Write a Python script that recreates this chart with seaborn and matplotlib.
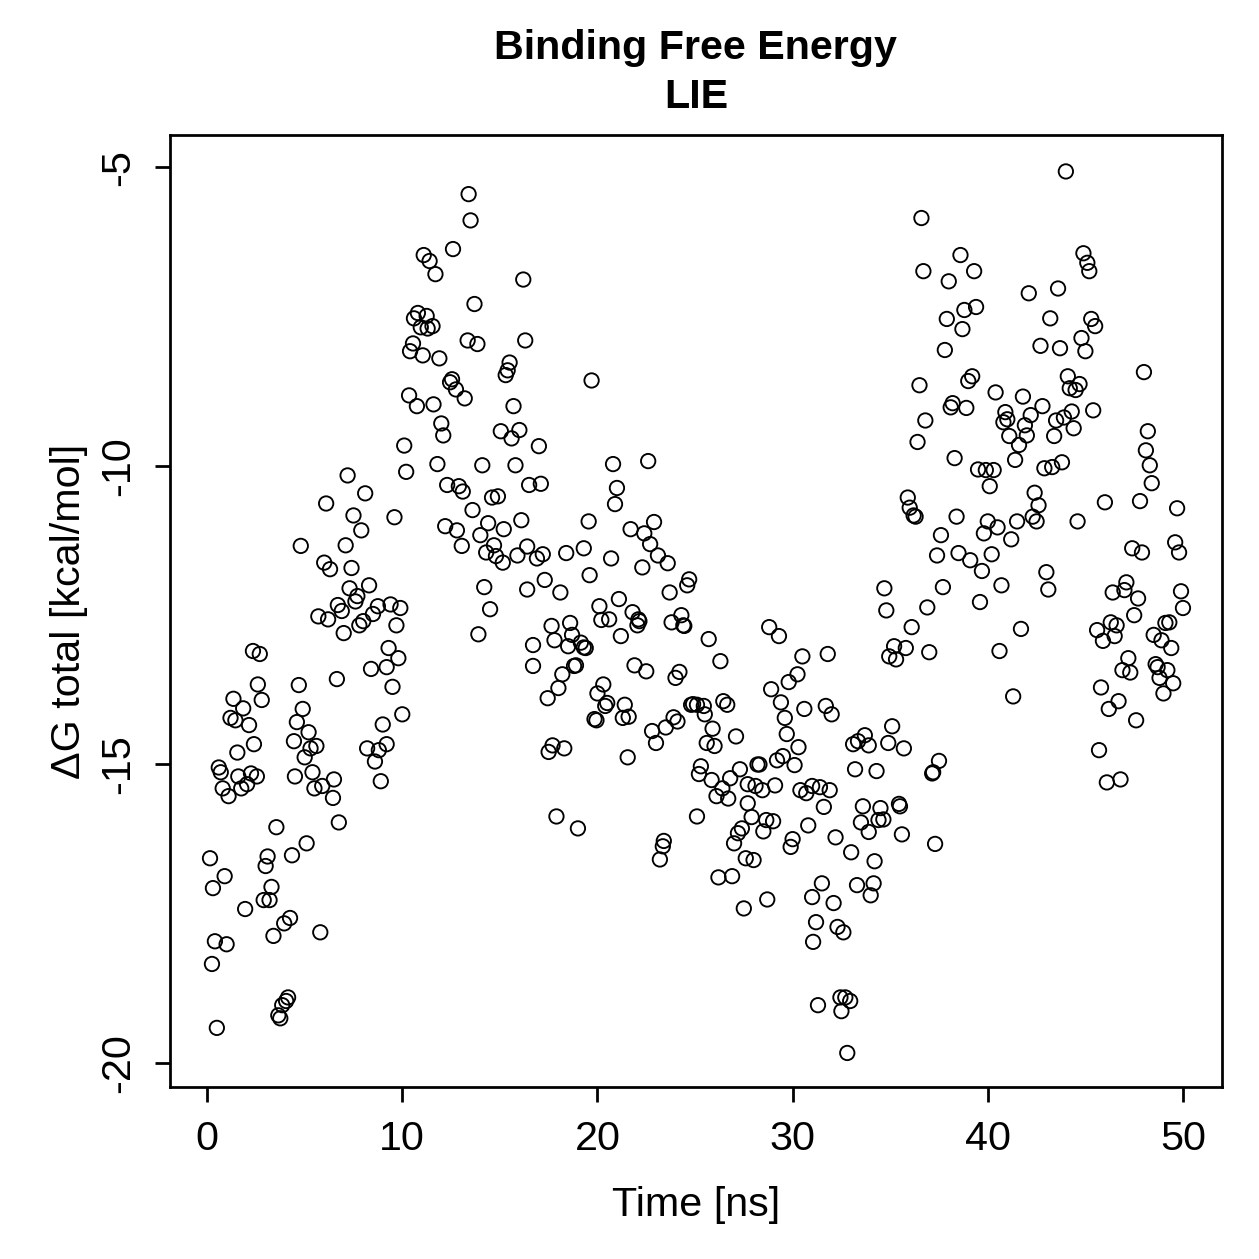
import matplotlib
matplotlib.use("Agg")
import matplotlib.pyplot as plt
import seaborn as sns
import pandas as pd

# ---- data (time [ns], dG total [kcal/mol]) ----
time_00_10 = [0.15, 0.25, 0.3, 0.4, 0.5, 0.8, 0.9, 1.0, 1.1, 1.75, 1.95, 2.05, 2.9, 3.0, 3.1, 3.2, 3.3, 3.4,
              3.55, 3.65, 3.75, 3.85, 3.95, 4.05, 4.15, 4.25, 4.35, 5.1, 5.5, 5.8, 5.9, 6.45, 6.75,
              7.2, 8.1, 6.1, 7.5, 9.6, 7.9, 4.8, 7.1, 6.0, 6.3, 7.4, 7.3, 8.3, 7.7, 7.6, 6.7, 6.9, 8.75,
              9.4, 9.9, 8.5, 5.7, 6.2, 8.0, 7.8, 9.7, 7.0, 9.3, 9.8, 9.2, 8.4, 6.65, 9.5, 9.0, 9.2, 8.2,
              8.8, 8.6, 2.35, 2.7, 2.6, 4.7, 1.35, 2.8, 1.85, 1.2, 1.45, 2.15, 4.9, 4.6, 5.2, 4.45, 2.4,
              5.3, 5.6, 5.0, 1.55, 0.6, 0.7, 1.6, 2.25, 2.55, 4.5, 5.4, 6.5, 8.9]
dg_00_10 = [-16.57, -18.34, -17.07, -17.96, -19.41, -15.40, -16.87, -18.01, -15.53, -15.40, -17.42, -15.33,
            -17.27, -16.70, -16.54, -17.27, -17.05, -17.87, -16.05, -19.20, -19.25, -19.03, -17.66, -18.96,
            -18.90, -17.57, -16.52, -16.32, -15.40, -17.81, -15.36, -15.56, -15.97,
            -10.16, -10.46, -10.63, -10.83, -10.86, -11.08, -11.34, -11.33, -11.62, -11.73, -11.71, -12.05,
            -12.0, -12.18, -12.27, -12.33, -12.43, -12.35, -12.32, -12.38, -12.48, -12.52, -12.57, -12.6,
            -12.67, -12.67, -12.8, -13.05, -13.22, -13.37, -13.4, -13.57, -13.7, -14.33, -14.66, -14.73,
            -14.76, -14.95, -13.1, -13.15, -13.66, -13.67, -13.9, -13.92, -14.06, -14.22, -14.26, -14.34,
            -14.07, -14.29, -14.46, -14.61, -14.66, -14.73, -14.69, -14.88, -14.8, -15.05, -15.13, -15.2,
            -15.15, -15.2, -15.2, -15.13, -15.25, -15.28]

time_10_20 = [10.2, 11.8, 14.1, 15.8, 10.0, 12.3, 12.9, 13.1, 14.6, 14.9, 16.5, 13.6, 12.2, 12.8, 14.4, 15.2,
              16.1, 14.0, 13.05, 14.7, 14.3, 14.8, 15.15, 15.9, 16.4, 14.2, 16.4, 14.5, 13.9, 16.7, 16.7,
              13.4, 13.5, 12.6, 11.1, 11.4, 11.7, 16.2, 13.7, 10.8, 10.6, 11.25, 10.95, 11.55, 11.3, 13.35,
              13.85, 16.3, 10.55, 10.4, 11.05, 11.9, 15.5, 15.4, 15.3, 12.55, 12.45, 12.75, 13.2, 10.35,
              10.75, 11.6, 15.7, 12.0, 12.1, 15.05, 15.6, 16.0, 10.1, 17.0, 19.7,
              17.1, 19.55, 16.9, 17.2, 18.4, 19.3, 19.6, 17.3, 18.1, 18.6, 17.65, 18.7, 17.8, 18.5, 19.15,
              19.3, 19.4, 18.8, 18.9, 18.2, 18.0, 17.45, 19.85, 19.95, 17.7, 17.5, 18.3, 17.9, 19.0]
dg_10_20 = [-10.1, -9.97, -9.99, -9.99, -14.16, -10.32, -10.34, -10.43, -10.53, -10.51, -10.32, -10.74, -11.01,
            -11.08, -10.96, -11.06, -10.91, -11.16, -11.34, -11.33, -11.45, -11.51, -11.62, -11.5, -11.35,
            -12.03, -12.07, -12.4, -12.82, -13.0, -13.35,
            -5.45, -5.89, -6.37, -6.47, -6.57, -6.79, -6.88, -7.29, -7.44, -7.53, -7.49, -7.68, -7.66, -7.7,
            -7.9, -7.96, -7.9, -7.95, -8.08, -8.15, -8.2, -8.27, -8.4, -8.48, -8.55, -8.6, -8.72, -8.87,
            -8.82, -9.0, -8.97, -9.0, -9.29, -9.49, -9.42, -9.54, -9.4, -9.66, -9.67, -8.57,
            -10.3, -10.93, -11.55, -11.48, -11.46, -11.38, -11.83, -11.91, -12.12, -12.63, -12.68, -12.83,
            -12.92, -13.02, -12.96, -13.04, -13.05, -13.35, -13.34, -13.49, -13.72, -13.89, -14.24, -14.26,
            -14.68, -14.79, -14.73, -15.87, -16.07]

time_20_30 = [20.8, 22.6, 21.0, 20.9, 21.7, 22.9, 22.4, 22.7, 23.1, 23.6, 20.7, 22.3, 24.7, 24.6, 23.7, 21.1,
              20.1, 21.8, 20.2, 20.6, 22.1, 22.15, 22.05, 24.3, 23.8, 24.4, 24.45, 21.2, 25.7, 28.8, 29.3,
              21.9, 22.5, 24.2, 24.0, 26.3, 29.8, 28.9, 29.4, 29.6, 29.7, 20.3, 20.0, 20.5, 20.4, 21.4,
              21.3, 21.6, 24.8, 24.9, 25.1, 25.45, 25.5, 26.45, 26.65, 23.9, 24.1, 23.5, 22.8, 23.0, 25.9,
              27.1, 25.6, 26.0, 21.55, 25.3, 25.2, 25.85, 27.3, 26.8, 28.2, 28.3, 29.2, 29.5,
              23.4, 23.35, 23.2, 25.1, 26.4, 26.1, 26.7, 27.7, 28.1, 28.45, 29.1, 27.7, 27.9, 28.65, 29.0,
              28.5, 27.4, 27.2, 27.0, 27.6, 28.0, 26.2, 26.9, 27.5, 28.7, 29.9]
dg_20_30 = [-9.97, -9.92, -10.37, -10.64, -11.06, -10.94, -11.13, -11.31, -11.5, -11.63, -11.55, -11.7, -11.9,
            -12.0, -12.12, -12.23, -12.35, -12.45, -12.58, -12.57, -12.57, -12.6, -12.67, -12.5, -12.62,
            -12.67, -12.68, -12.85, -12.9, -12.7, -12.85, -13.34, -13.44, -13.45, -13.55, -13.27, -13.62,
            -13.74, -13.96, -14.22, -14.49, -13.66, -13.81, -13.97, -14.02, -14.0, -14.22, -14.2, -14.0,
            -13.99, -14.0, -14.02, -14.16, -13.94, -14.0, -14.21, -14.28, -14.38, -14.44, -14.64, -14.4,
            -14.53, -14.64, -14.69, -14.88, -15.03, -15.16, -15.26, -15.08, -15.23, -15.0, -15.0, -14.93,
            -14.86,
            -16.28, -16.37, -16.59, -15.87, -15.4, -15.53, -15.57, -15.33, -15.36, -15.43, -15.35, -15.65,
            -15.88, -15.93, -15.95, -16.12, -16.07, -16.15, -16.32, -16.57, -16.6, -16.89, -16.87, -17.41,
            -17.26, -16.38]

time_30_40 = [30.5, 31.8, 30.25, 30.6, 31.7, 32.0, 30.3, 30.1, 33.1, 33.35, 33.7, 33.9, 33.2, 34.3,
              30.4, 30.7, 31.0, 31.4, 31.9, 31.6, 30.8, 30.0, 32.2, 33.0, 33.6, 33.5, 33.9, 31.5, 31.0,
              32.1, 33.3, 31.2, 32.3, 32.6, 31.05, 32.45, 32.7, 32.95, 31.3, 32.5, 32.8,
              34.5, 34.4, 34.65, 35.45, 35.5, 35.6, 37.3, 34.2, 34.15, 34.0,
              35.9, 36.0, 36.2, 36.3, 38.4, 37.6, 39.8, 37.4, 38.5, 39.1, 39.7, 34.7, 37.7, 39.6, 34.8,
              36.9, 36.1, 35.2, 34.95, 35.3, 35.8, 37.0, 35.1, 34.9, 35.7, 37.5, 37.15, 37.2,
              36.6, 38.6, 36.7, 38.0, 39.3, 37.9, 38.8, 39.4, 38.7, 37.8, 36.5, 39.2, 39.0, 38.2, 38.1,
              38.9, 36.8, 36.4, 38.3, 39.5, 39.9]
dg_30_40 = [-13.19, -13.15, -13.49, -14.07, -14.02, -14.16, -14.71, -15.01, -14.66, -14.61, -14.51, -14.68,
            -15.08, -15.11,
            -15.43, -15.48, -15.36, -15.38, -15.43, -15.71, -16.02, -16.25, -16.22, -16.47, -15.7, -15.97,
            -16.13, -16.99, -17.22, -17.32, -17.02, -17.64, -17.72, -17.81, -17.97, -18.9, -18.9, -18.96,
            -19.03, -19.13, -19.83,
            -15.73, -15.93, -15.92, -15.66, -15.7, -16.17, -16.33, -16.62, -16.99, -17.19,
            -10.53, -10.7, -10.83, -10.85, -10.85, -11.16, -11.13, -11.5, -11.46, -11.58, -11.76, -12.05,
            -12.03, -12.28, -12.42, -12.37, -12.7, -13.02, -13.19, -13.24, -13.05, -13.12, -14.36, -14.64,
            -14.73, -14.94, -15.15, -15.13,
            -5.85, -6.47, -6.74, -6.91, -6.74, -7.54, -7.39, -7.34, -7.71, -8.06, -8.65, -8.5, -8.58,
            -8.95, -9.02, -9.03, -9.24, -9.6, -9.87, -10.06, -10.07]

time_40_50 = [44.0, 44.9, 45.1, 45.2, 42.1, 43.6, 43.2, 45.3, 45.5, 42.7, 43.7, 44.8, 45.0, 48.0, 40.4, 41.8,
              44.1, 44.7, 44.5, 44.2, 40.9, 41.0, 40.8, 42.2, 42.8, 41.9, 43.5, 43.9, 44.3, 45.4, 44.4,
              41.1, 42.0, 43.4, 48.2, 41.6, 41.4, 48.1, 48.3, 43.8, 42.9, 43.3, 40.3,
              40.1, 48.4, 40.0, 40.5, 41.5, 42.4, 42.6, 42.3, 42.5, 44.6, 46.0, 47.8, 49.7, 41.2, 40.2,
              43.0, 43.1, 47.4, 47.9, 49.6, 49.8, 40.7, 41.7, 40.6, 41.3, 47.1, 47.0, 46.4, 47.7, 49.9,
              50.0, 47.5, 46.3, 46.6, 45.6, 45.9, 46.5, 48.5, 48.9, 49.1, 49.3, 49.4, 47.2, 46.9, 47.3,
              48.6, 48.7, 49.2, 48.8, 49.5, 49.0, 45.8, 46.7, 46.2, 47.6, 45.7, 46.1, 46.8]
dg_40_50 = [-5.07, -6.44, -6.6, -6.74, -7.11, -7.03, -7.53, -7.54, -7.66, -7.99, -8.03, -7.86, -8.08, -8.43,
            -8.77, -8.84, -8.5, -8.63, -8.73, -8.7, -9.1, -9.22, -9.27, -9.15, -9.0, -9.32, -9.24, -9.19,
            -9.09, -9.07, -9.37, -9.5, -9.49, -9.5, -9.42, -9.65, -9.9, -9.74, -9.99, -9.94, -10.04, -10.02,
            -10.07,
            -10.34, -10.29, -10.93, -11.03, -10.93, -10.45, -10.66, -10.85, -10.93, -10.93, -10.61, -10.59,
            -10.71, -11.23, -11.48, -11.78, -12.07, -11.38, -11.45, -11.28, -11.45, -12.0, -12.73, -13.1,
            -13.86, -11.95, -12.08, -12.12, -12.22, -12.1, -12.38, -12.5, -12.62, -12.67, -12.75, -12.93,
            -12.85, -12.83, -12.92, -12.63, -12.62, -13.05, -13.22, -13.42, -13.46, -13.32, -13.37, -13.42,
            -13.55, -13.64, -13.81, -13.71, -13.94, -14.07, -14.26, -14.76, -15.3, -15.25]

x_ticks = [0, 10, 20, 30, 40, 50]
y_ticks = [-20, -15, -10, -5]
title_text = "Binding Free Energy\nLIE"
x_label = "Time [ns]"
y_label = "\u0394G total [kcal/mol]"

df = pd.DataFrame({
    "time": time_00_10 + time_10_20 + time_20_30 + time_30_40 + time_40_50,
    "dg": dg_00_10 + dg_10_20 + dg_20_30 + dg_30_40 + dg_40_50,
})

sns.set_style("white")
plt.rcParams["font.family"] = ["Liberation Sans", "DejaVu Sans"]

FS = 16.5
W = 1259
fig = plt.figure(figsize=(W / 180, W / 180), dpi=180)
ax = fig.add_axes([170 / W, 1 - 1087 / W, (1222 - 170) / W, (1087 - 135) / W])

sns.scatterplot(data=df, x="time", y="dg", ax=ax, marker="o", s=33,
                facecolor="none", edgecolor="black", linewidth=0.75, legend=False)

ax.set_xlim(-1.9, 52.0)
ax.set_ylim(-20.4, -4.46)
ax.set_xticks(x_ticks)
ax.set_yticks(y_ticks)
ax.set_xticklabels([str(t) for t in x_ticks], fontsize=FS)
ax.set_yticklabels([str(t) for t in y_ticks], fontsize=FS, rotation=90, va="center")
ax.tick_params(axis="both", direction="out", length=6, width=1.1, color="black",
               labelcolor="black", bottom=True, left=True, top=False, right=False)
ax.tick_params(axis="x", pad=7)
ax.tick_params(axis="y", pad=7)
for sp in ax.spines.values():
    sp.set_visible(True)
    sp.set_color("black")
    sp.set_linewidth(1.1)

ax.set_xlabel(x_label, fontsize=FS, color="black")
ax.set_ylabel(y_label, fontsize=FS, color="black")
ax.xaxis.set_label_coords(0.5, -0.104)
ax.yaxis.set_label_coords(-0.078, 0.5)
ax.set_title(title_text, fontsize=FS, fontweight="bold", pad=10.6, linespacing=1.39, color="black")

fig.savefig("out.png", dpi=180, facecolor="white")
